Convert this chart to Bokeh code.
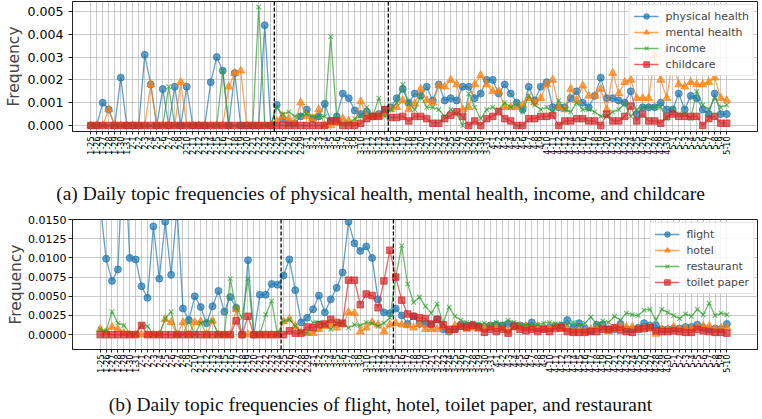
import pandas as pd
from bokeh.plotting import figure
from bokeh.models import Range1d, FixedTicker, PrintfTickFormatter, Span, Div
from bokeh.layouts import column
from bokeh.embed import file_html
from bokeh.resources import INLINE

# ---------------- data ----------------
dates = [f"{d.month}-{d.day}" for d in pd.date_range("2020-01-25", "2020-05-10")]
event_positions = [30.6, 49.6]   # dashed reference lines (in day-index units)

physical_health = [0, 0, 0.0010, 0.0007, 0, 0.0021, 0, 0, 0, 0.0031,
                   0.0018, 0, 0.0016, 0, 0.0017, 0, 0.0017, 0, 0, 0,
                   0.0019, 0.0030, 0.0024, 0, 0.0023, 0, 0, 0, 0, 0.0044,
                   0, 0.0009, 0.0003, 0.0001, 0.0001, 0.0004, 0.0007, 0.0003, 0.0004, 0.00095,
                   0.0002, 0.0004, 0.0014, 0.0012, 0.00066, 0.0005, 0.0006, 0.0004, 0.0005, 0.0007,
                   0.0008, 0.0012, 0.0016, 0.0010, 0.0014, 0.0013, 0.0017, 0.0011, 0.0018, 0.0011,
                   0.0012, 0.0011, 0.0017, 0.0017, 0.0012, 0.0014, 0.0020, 0.0020, 0.0014, 0.0018,
                   0.0014, 0.0010, 0.0007, 0.0017, 0.0011, 0.0017, 0.0019, 0.0008, 0.0008, 0.0008,
                   0.0012, 0.0015, 0.0010, 0.0008, 0.0013, 0.0021, 0.0012, 0.0012, 0.0011, 0.0010,
                   0.0015, 0.0005, 0.0008, 0.0008, 0.0008, 0.0010, 0.0007, 0.0007, 0.0014, 0.0007,
                   0.0013, 0.0012, 0.0007, 0.0005, 0.0014, 0.0005, 0.0005]
mental_health = [0, 0, 0, 0.0007, 0, 0, 0, 0, 0, 0,
                 0.0018, 0, 0, 0, 0, 0.0019, 0, 0, 0, 0,
                 0, 0, 0, 0.0017, 0.0023, 0.0024, 0, 0, 0, 0,
                 0, 0.0002, 0.0004, 0.0003, 0.0001, 0.0010, 0.0004, 0.0003, 0.0007, 0,
                 0, 0.0001, 0.0003, 0.0002, 0.0001, 0.00105, 0.0004, 0.0004, 0.0004, 0.0005,
                 0.0007, 0.0008, 0.0011, 0.0007, 0.00095, 0.0016, 0.0011, 0.0010, 0.00175, 0.0017,
                 0.0020, 0.0018, 0.0007, 0.0008, 0.0018, 0.0022, 0.0018, 0.0015, 0.0015, 0.0008,
                 0.0008, 0.0008, 0.0009, 0.0012, 0.0010, 0.0012, 0.0018, 0.0020, 0.0008, 0.0007,
                 0.0016, 0.0011, 0.00175, 0.0013, 0.0013, 0.0016, 0.0007, 0.0023, 0.0014, 0.0019,
                 0.0020, 0.0012, 0.0012, 0.0012, 0.0031, 0.0020, 0.0012, 0.0029, 0.0018, 0.0017,
                 0.0019, 0.0018, 0.0018, 0.0019, 0.0021, 0.0012, 0.0011]
income = [0, 0, 0, 0, 0, 0, 0, 0, 0, 0,
          0, 0, 0, 0.0017, 0, 0, 0, 0, 0, 0,
          0, 0, 0.0024, 0, 0, 0, 0, 0, 0.0052, 0,
          0, 0.0008, 0.0005, 0.0006, 0.0004, 0.00045, 0.0005, 0.0004, 0.0004, 0.0004,
          0.0039, 0.0003, 0.0001, 0.0001, 0.0003, 0.0004, 0.0008, 0.0004, 0.0012, 0.0004,
          0.0007, 0.0010, 0.0018, 0.00095, 0.0007, 0.0013, 0.0008, 0.0008, 0.0007, 0.0004,
          0.0007, 0.0005, 0, 0.0014, 0.0008, 0.0003, 0.0007, 0.0008, 0.0007, 0.0010,
          0.0008, 0.00095, 0.0006, 0.0013, 0.0009, 0.0007, 0.0008, 0.0006, 0.0011, 0.0007,
          0.0006, 0.0010, 0.0007, 0.0007, 0.0006, 0.0004, 0.0004, 0.0006, 0.0007, 0.00095,
          0.0004, 0.0007, 0.0008, 0.0008, 0.0008, 0.0008, 0.0003, 0.0007, 0.0005, 0.0005,
          0.0003, 0.0015, 0.0009, 0.0007, 0.0012, 0.0008, 0.0009]
childcare = [0, 0, 0, 0, 0, 0, 0, 0, 0, 0,
             0, 0, 0, 0, 0, 0, 0, 0, 0, 0,
             0, 0, 0, 0, 0, 0, 0, 0, 0, 0,
             0, 0, 0, 0, 0, 0, 0, 0, 0, 0,
             0.0002, 0.0002, 0, 0, 0, 0.0001, 0.0003, 0.0004, 0.0004, 0.0007,
             0.00035, 0.00035, 0.0004, 0.0002, 0.0004, 0.0004, 0.0003, 0.0001, 0.0001, 0.0003,
             0.00045, 0.0006, 0.0004, 0, 0.0002, 0, 0.0003, 0.0004, 0.0006, 0.0003,
             0.0002, 0, 0, 0.0003, 0.0003, 0.0004, 0.0004, 0.00045, 0, 0.0002,
             0.0002, 0.0003, 0.0003, 0.0002, 0.0002, 0, 0.0005, 0.0002, 0.0002, 0.0004,
             0.00085, 0.0002, 0.0005, 0.0002, 0.0002, 0.0001, 0.0004, 0.0005, 0.0004, 0.0004,
             0.0004, 0.0004, 0, 0.0003, 0.0004, 0.0001, 0.0001]

flight = [0.0170, 0.0099, 0.0070, 0.0085, 0.0260, 0.0100, 0.0098, 0.0063, 0.0048, 0.0141,
          0.0073, 0.0147, 0.0078, 0.0165, 0.0034, 0.0019, 0.0050, 0.0036, 0.0015, 0.0037,
          0.0057, 0.0030, 0.0049, 0.0035, 0.0000, 0.0097, 0.0000, 0.0052, 0.0052, 0.0066,
          0.0065, 0.0077, 0.0098, 0.0058, 0.0016, 0.0022, 0.0033, 0.0051, 0.0029, 0.0046,
          0.0061, 0.0081, 0.0147, 0.0119, 0.0109, 0.0115, 0.0100, 0.0046, 0.0029, 0.0028,
          0.0034, 0.0025, 0.0014, 0.0024, 0.0014, 0.0014, 0.0013, 0.0020, 0.0007, 0.0004,
          0.00075, 0.0013, 0.0012, 0.0013, 0.0011, 0.0009, 0.0012, 0.0013, 0.0012, 0.0014,
          0.0012, 0.0012, 0.0011, 0.0016, 0.0009, 0.0008, 0.0009, 0.0011, 0.0012, 0.0019,
          0.0009, 0.0015, 0.0008, 0.0005, 0.0013, 0.0013, 0.0007, 0.0007, 0.0014, 0.0007,
          0.0007, 0.0009, 0.0015, 0.0012, 0.0012, 0.0007, 0.0007, 0.0008, 0.0008, 0.0010,
          0.0010, 0.0013, 0.0009, 0.0007, 0.0008, 0.0007, 0.0014]
hotel = [0.0007, 0.0003, 0.0010, 0.0007, 0.0002, 0, 0, 0, 0, 0,
         0, 0.0020, 0.0016, 0, 0.0016, 0, 0.0016, 0.0017, 0, 0.0018,
         0, 0, 0, 0.0033, 0, 0, 0, 0, 0, 0,
         0, 0.0017, 0.0020, 0.0011, 0.0003, 0.0002, 0.0002, 0.0007, 0.0011, 0.0013,
         0.0009, 0.0013, 0.0029, 0.0028, 0.0004, 0.0009, 0.0016, 0.0013, 0.0004, 0.0013,
         0.0015, 0.0013, 0.0012, 0.0009, 0.0014, 0.0007, 0.0007, 0.0007, 0.0011, 0.0004,
         0.0012, 0.0010, 0.0007, 0.0009, 0.0007, 0.0009, 0.0010, 0.0009, 0.0008, 0.0005,
         0.0009, 0.0011, 0.0011, 0.0008, 0.0011, 0.0008, 0.0007, 0.0011, 0.0007, 0.0008,
         0.0004, 0.0007, 0.0004, 0.0007, 0.0009, 0.0008, 0.0004, 0.0008, 0.0010, 0.0010,
         0.0010, 0.0007, 0.0008, 0.0010, 0.0001, 0.0007, 0.0007, 0.0010, 0.0007, 0.0008,
         0.0008, 0.0010, 0.0011, 0.0011, 0.0007, 0.0009, 0.0009]
restaurant = [0.0007, 0.0005, 0.0030, 0.0015, 0.0012, 0.0002, 0.0001, 0.0013, 0.0011, 0,
              0, 0.0021, 0.0030, 0, 0, 0.0018, 0, 0.0015, 0.0018, 0.0018,
              0, 0, 0.0073, 0.0035, 0.0022, 0.0073, 0, 0, 0.0026, 0.0044,
              0, 0.0018, 0.0020, 0.0011, 0.0004, 0.0002, 0.0016, 0.0016, 0.0014, 0.0007,
              0.0015, 0.0016, 0.0009, 0.0013, 0.0012, 0.0016, 0.0015, 0.0011, 0.0015, 0.0022,
              0.0075, 0.0116, 0.0066, 0.0042, 0.0049, 0.0037, 0.0028, 0.0040, 0.0015, 0.0036,
              0.0024, 0.0019, 0.0016, 0.0015, 0.0014, 0.0015, 0.0013, 0.0016, 0.0014, 0.0019,
              0.0016, 0.0013, 0.0012, 0.0013, 0.0013, 0.0015, 0.0016, 0.0014, 0.0014, 0.0013,
              0.0016, 0.0012, 0.0015, 0.0023, 0.0013, 0.0018, 0.0016, 0.0024, 0.0019, 0.0028,
              0.0026, 0.0025, 0.0032, 0.0033, 0.0019, 0.0033, 0.0029, 0.0025, 0.0021, 0.0027,
              0.0024, 0.0033, 0.0026, 0.0041, 0.0025, 0.0028, 0.0026]
toilet_paper = [0, 0, 0, 0, 0, 0, 0, 0.0012, 0, 0,
                0, 0, 0, 0, 0, 0, 0, 0, 0, 0,
                0, 0, 0, 0.0018, 0, 0.0024, 0, 0, 0, 0,
                0, 0, 0.0005, 0.0002, 0.0002, 0.0010, 0.0009, 0.0013, 0.0014, 0.0020,
                0.0016, 0.0015, 0.0071, 0.0071, 0.0039, 0.0053, 0.0051, 0.0035, 0.0070, 0.0110,
                0.0075, 0.0045, 0.0027, 0.0024, 0.0022, 0.0021, 0.0014, 0.0020, 0.0013, 0.0007,
                0.0007, 0.0011, 0.0010, 0.0012, 0.0010, 0.0003, 0.0007, 0.0004, 0.0007, 0.0002,
                0.0011, 0.0007, 0.0005, 0.0007, 0.0004, 0.0007, 0.0004, 0.0008, 0.0009, 0.0004,
                0.0003, 0.0003, 0.0003, 0.0004, 0.0004, 0.0007, 0.0007, 0.0009, 0.0006, 0.0004,
                0.0003, 0.0007, 0.0008, 0.0009, 0.0005, 0.0004, 0.0004, 0.0005, 0.0004, 0.0003,
                0.0003, 0.0007, 0.0005, 0.0004, 0.0003, 0.0003, 0.0002]

top_ticks = [0, 0.001, 0.002, 0.003, 0.004, 0.005]
bottom_ticks = [0, 0.0025, 0.005, 0.0075, 0.01, 0.0125, 0.015]

BLUE, ORANGE, GREEN, RED = "#1f77b4", "#ff7f0e", "#2ca02c", "#d62728"
FONT = "DejaVu Sans"
idx = list(range(len(dates)))


def make_fig(height, border_left, border_top, xr, yr, yticks, fmt, tick_size,
             label_standoff, axis_standoff, series, legend_size):
    p = figure(width=757, height=height, x_range=Range1d(*xr), y_range=Range1d(*yr),
               output_backend="svg", toolbar_location=None,
               min_border_left=border_left, min_border_right=2,
               min_border_top=border_top, min_border_bottom=26)
    p.background_fill_color = "white"
    p.border_fill_color = "white"
    p.outline_line_color = "#222222"
    p.outline_line_width = 1

    p.xaxis.ticker = FixedTicker(ticks=idx)
    p.xaxis.major_label_overrides = {i: d for i, d in zip(idx, dates)}
    p.xaxis.major_label_orientation = 3.14159265 / 2
    p.xaxis.major_label_text_font = FONT
    p.xaxis.major_label_text_font_size = "8px"
    p.xaxis.major_label_standoff = 2
    p.xaxis.minor_tick_line_color = None
    p.xaxis.major_tick_in = 0
    p.xaxis.major_tick_out = 3

    p.yaxis.ticker = FixedTicker(ticks=yticks)
    p.yaxis.formatter = PrintfTickFormatter(format=fmt)
    p.yaxis.major_label_text_font = FONT
    p.yaxis.major_label_text_font_size = tick_size
    p.yaxis.major_label_standoff = label_standoff
    p.yaxis.minor_tick_line_color = None
    p.yaxis.major_tick_in = 0
    p.yaxis.major_tick_out = 4
    p.yaxis.axis_label = "Frequency"
    p.yaxis.axis_label_text_font = FONT
    p.yaxis.axis_label_text_font_style = "normal"
    p.yaxis.axis_label_text_font_size = "15.5px"
    p.yaxis.axis_label_standoff = axis_standoff
    for ax in (p.xaxis, p.yaxis):
        ax.axis_line_color = "#222222"
        ax.major_tick_line_color = "#222222"
        ax.major_label_text_color = "black"

    p.xgrid.grid_line_color = "#b0b0b0"
    p.ygrid.grid_line_color = "#b0b0b0"
    p.xgrid.grid_line_alpha = 0.75
    p.ygrid.grid_line_alpha = 0.75
    p.xgrid.grid_line_width = 0.9
    p.ygrid.grid_line_width = 0.9

    for name, vals, color, marker, size in series:
        p.line(idx, vals, color=color, line_width=1.3, alpha=0.7, legend_label=name)
        if marker == "x":
            p.scatter(idx, vals, marker="x", size=size, line_color=color,
                      line_width=1.1, alpha=0.7, legend_label=name)
        else:
            p.scatter(idx, vals, marker=marker, size=size, fill_color=color,
                      line_color=color, alpha=0.7, legend_label=name)

    for pos in event_positions:
        p.add_layout(Span(location=pos, dimension="height", line_color="black",
                          line_width=1.3, line_dash="4 2"))

    lg = p.legend[0]
    lg.location = "top_right"
    lg.margin = 3
    lg.padding = 4
    lg.spacing = 2
    lg.label_height = 14
    lg.glyph_height = 14
    lg.glyph_width = 25
    lg.label_standoff = 7
    lg.label_text_font = FONT
    lg.label_text_font_size = legend_size
    lg.border_line_color = "#cccccc"
    lg.border_line_width = 1
    lg.background_fill_alpha = 0.85
    return p


p1 = make_fig(157, 64, 1, (-3.04, 111.13), (-0.000263, 0.005439), top_ticks, "%.3f",
              "12.6px", 5, 1,
              [("physical health", physical_health, BLUE, "circle", 7),
               ("mental health", mental_health, ORANGE, "triangle", 8),
               ("income", income, GREEN, "x", 6.5),
               ("childcare", childcare, RED, "square", 6.5)], "11px")

p2 = make_fig(167, 60, 11, (-4.68, 111.18), (-0.00193, 0.0150), bottom_ticks, "%.4f",
              "11px", 2, 0,
              [("flight", flight, BLUE, "circle", 7),
               ("hotel", hotel, ORANGE, "triangle", 8),
               ("restaurant", restaurant, GREEN, "x", 6.5),
               ("toilet paper", toilet_paper, RED, "square", 6.5)], "10.8px")

CAP = ('<div style="width:750px;margin-left:0px;font-family:\'Liberation Serif\';'
       'font-size:19.5px;line-height:24px;text-align:center;white-space:nowrap;'
       'color:#111;">{}</div>')
cap_a = Div(text=CAP.format("(a) Daily topic frequencies of physical health, mental health, income, and childcare"),
            width=757, height=24, margin=(25, 0, 2, 0), styles={"text-align": "center"})
cap_b = Div(text=CAP.format("(b) Daily topic frequencies of flight, hotel, toilet paper, and restaurant"),
            width=757, height=24, margin=(18, 0, 0, 0), styles={"text-align": "center"})

layout = column(p1, cap_a, p2, cap_b, margin=(0, 0, -8, 2), spacing=0)

open("out.html", "w").write(file_html(layout, INLINE))
